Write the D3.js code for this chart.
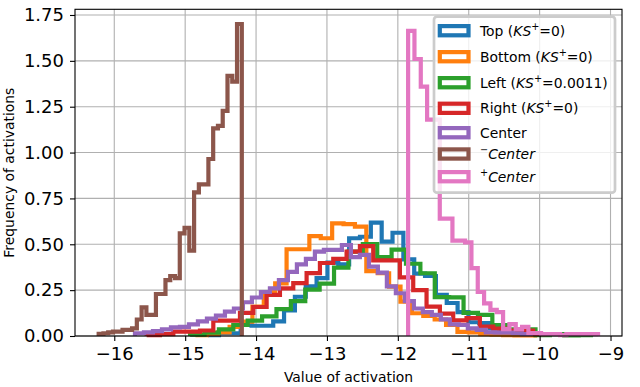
<!DOCTYPE html>
<html>
<head>
<meta charset="utf-8">
<script src="https://cdn.jsdelivr.net/npm/d3@7"></script>
<style>
  body { margin: 0; background: #fff; }
  text { font-family: "DejaVu Sans", sans-serif; }
</style>
</head>
<body>
<div id="chart"></div>
<script>
// histogram heights (density), one array per series
const topVals = [0.005, 0.015, 0.015, 0.06, 0.056, 0.056, 0.08, 0.14, 0.214, 0.27, 0.315, 0.40, 0.39, 0.533, 0.541, 0.618, 0.514, 0.563, 0.418, 0.34, 0.327, 0.224, 0.18, 0.13, 0.075, 0.07, 0.042, 0.03, 0.03, 0.03];
const bottomVals = [0.005, 0.01, 0.02, 0.05, 0.078, 0.16, 0.24, 0.287, 0.473, 0.473, 0.545, 0.533, 0.614, 0.61, 0.596, 0.354, 0.342, 0.269, 0.187, 0.124, 0.11, 0.09, 0.06, 0.023, 0.02, 0.01, 0.008, 0.005, 0.003, 0.003];
const leftVals = [0.008, 0.018, 0.036, 0.06, 0.084, 0.107, 0.146, 0.19, 0.253, 0.285, 0.373, 0.46, 0.501, 0.43, 0.471, 0.394, 0.342, 0.212, 0.211, 0.126, 0.115, 0.06, 0.036, 0.036, 0.005, 0.01, 0.003, 0.005];
const rightVals = [0.005, 0.01, 0.024, 0.024, 0.03, 0.084, 0.084, 0.126, 0.158, 0.224, 0.26, 0.288, 0.343, 0.398, 0.42, 0.46, 0.49, 0.412, 0.412, 0.32, 0.25, 0.16, 0.122, 0.085, 0.097, 0.051, 0.04, 0.029, 0.029, 0.01];
const centerVals = [0.015, 0.02, 0.027, 0.036, 0.047, 0.05, 0.063, 0.08, 0.095, 0.111, 0.133, 0.15, 0.184, 0.21, 0.24, 0.26, 0.305, 0.35, 0.39, 0.42, 0.46, 0.469, 0.469, 0.496, 0.43, 0.442, 0.378, 0.345, 0.27, 0.233, 0.19, 0.15, 0.13, 0.115, 0.091, 0.063, 0.06, 0.042, 0.033, 0.02, 0.018, 0.018, 0.015, 0.01];
const minusCenterVals = [0.012, 0.015, 0.02, 0.024, 0.024, 0.033, 0.033, 0.042, 0.09, 0.156, 0.115, 0.115, 0.229, 0.229, 0.305, 0.327, 0.315, 0.56, 0.59, 0.465, 0.783, 0.827, 0.827, 0.965, 1.132, 1.145, 1.227, 1.418, 1.387, 1.701];
const plusCenterVals = [1.663, 1.51, 1.36, 1.18, 1.18, 0.64, 0.64, 0.52, 0.52, 0.51, 0.37, 0.24, 0.178, 0.142, 0.13, 0.038, 0.065, 0.038, 0.05, 0.016, 0.016, 0.01, 0.01, 0.01, 0.005, 0.01, 0.01, 0.01, 0.01, 0.01];

// left edge of first bin and bin width, in activation units (same order as series)
const binStart = [-14.676, -14.855, -14.93, -15.543, -15.708, -16.22, -11.855];
const binWidth = [0.153, 0.1607, 0.203, 0.188, 0.1269, 0.0673, 0.0893];

const xTicks = [-16, -15, -14, -13, -12, -11, -10, -9];
const yTicks = [0, 0.25, 0.5, 0.75, 1.0, 1.25, 1.5, 1.75];

// legend labels as [text, style] pieces
const labels = [
  [["Top (", ""], ["KS", "i"], ["+", "sup"], ["=0)", ""]],
  [["Bottom (", ""], ["KS", "i"], ["+", "sup"], ["=0)", ""]],
  [["Left (", ""], ["KS", "i"], ["+", "sup"], ["=0.0011)", ""]],
  [["Right (", ""], ["KS", "i"], ["+", "sup"], ["=0)", ""]],
  [["Center", ""]],
  [["\u2212", "sup"], ["Center", "i"]],
  [["+", "sup"], ["Center", "i"]]
];

const series = [topVals, bottomVals, leftVals, rightVals, centerVals, minusCenterVals, plusCenterVals];
const colors = ["#1f77b4", "#ff7f0e", "#2ca02c", "#d62728", "#9467bd", "#8c564b", "#e377c2"];

const W = 640, H = 387;
const L = 75, R = 622, T = 9.3, B = 336;
const LW = 4.2;

const svg = d3.select("#chart").append("svg")
  .attr("width", W)
  .attr("height", H);

const x = d3.scaleLinear().domain([-16.554, -8.838]).range([L, R]);
const y = d3.scaleLinear().domain([0, 1.781]).range([B, T]);

// grid
svg.append("g").selectAll("line").data(xTicks).enter().append("line")
  .attr("x1", d => x(d)).attr("x2", d => x(d))
  .attr("y1", T).attr("y2", B)
  .attr("stroke", "#b0b0b0").attr("stroke-width", 1.1);
svg.append("g").selectAll("line").data(yTicks).enter().append("line")
  .attr("x1", L).attr("x2", R)
  .attr("y1", d => y(d)).attr("y2", d => y(d))
  .attr("stroke", "#b0b0b0").attr("stroke-width", 1.1);

// step outline of each histogram
function stepPoints(vals, start, w) {
  const pts = [[start, 0]];
  vals.forEach((v, i) => {
    pts.push([start + i * w, v]);
    pts.push([start + (i + 1) * w, v]);
  });
  pts.push([start + vals.length * w, 0]);
  return pts;
}

const line = d3.line().x(d => x(d[0])).y(d => y(d[1]));

svg.append("g").selectAll("path")
  .data(series)
  .enter()
  .append("path")
  .attr("d", (d, i) => line(stepPoints(d, binStart[i], binWidth[i])))
  .attr("fill", "none")
  .attr("stroke", (d, i) => colors[i])
  .attr("stroke-width", LW)
  .attr("stroke-linejoin", "miter");

// frame
svg.append("rect")
  .attr("x", L).attr("y", T)
  .attr("width", R - L).attr("height", B - T)
  .attr("fill", "none").attr("stroke", "#000").attr("stroke-width", 1.1);

// axes
const xAxis = svg.append("g")
  .attr("transform", `translate(0,${B})`)
  .call(d3.axisBottom(x).tickValues(xTicks).tickSize(5).tickPadding(6).tickFormat(d3.format("d")));
const yAxis = svg.append("g")
  .attr("transform", `translate(${L},0)`)
  .call(d3.axisLeft(y).tickValues(yTicks).tickSize(5).tickPadding(6).tickFormat(d3.format(".2f")));

[xAxis, yAxis].forEach(a => {
  a.select(".domain").remove();
  a.selectAll("line").attr("stroke", "#000").attr("stroke-width", 1.1);
  a.selectAll("text")
    .style("font-family", "DejaVu Sans")
    .style("font-size", "18px")
    .attr("fill", "#000");
});

svg.append("text")
  .attr("x", (L + R) / 2).attr("y", 382)
  .attr("text-anchor", "middle")
  .style("font-size", "13.9px")
  .text("Value of activation");

svg.append("text")
  .attr("transform", `translate(14,${(T + B) / 2}) rotate(-90)`)
  .attr("text-anchor", "middle")
  .style("font-size", "13.9px")
  .text("Frequency of activations");

// legend
const legend = svg.append("g");
legend.append("rect")
  .attr("x", 434).attr("y", 16.7)
  .attr("width", 181).attr("height", 176)
  .attr("rx", 3).attr("ry", 3)
  .attr("fill", "#fff").attr("fill-opacity", 0.8)
  .attr("stroke", "#cccccc").attr("stroke-width", 2.7);

const rowY = [30.7, 56.7, 82.7, 108.3, 132.7, 154, 176.7];

labels.forEach((parts, i) => {
  const g = legend.append("g").attr("transform", `translate(0,${rowY[i]})`);
  g.append("rect")
    .attr("x", 439.8).attr("y", -4.6)
    .attr("width", 28.7).attr("height", 9.2)
    .attr("fill", "none")
    .attr("stroke", colors[i])
    .attr("stroke-width", LW);
  const t = g.append("text")
    .attr("x", 480).attr("y", 5)
    .style("font-size", "13.9px")
    .attr("fill", "#000");
  let shift = 0;
  parts.forEach(([s, style]) => {
    const span = t.append("tspan").text(s);
    if (style === "sup") {
      span.attr("dy", -6 - shift).style("font-size", "9.7px");
      shift = -6;
    } else {
      if (shift !== 0) { span.attr("dy", -shift); shift = 0; }
      if (style === "i") span.style("font-style", "italic");
    }
  });
});
</script>
</body>
</html>
